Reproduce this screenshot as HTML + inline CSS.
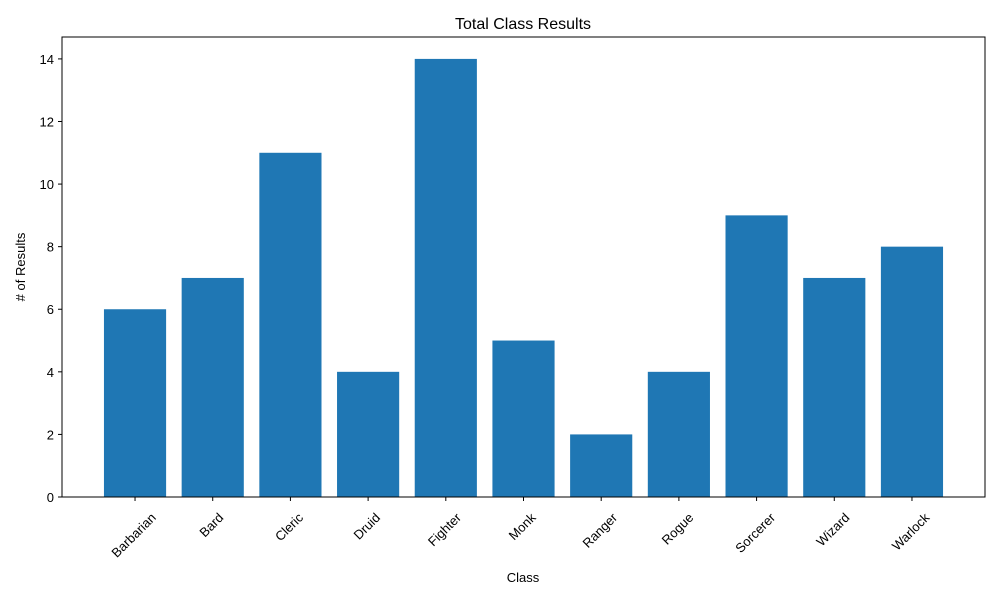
<!DOCTYPE html>
<html><head><meta charset="utf-8"><style>
body{margin:0;background:#fff;font-family:"Liberation Sans","DejaVu Sans",sans-serif;}
</style></head><body>
<svg id="chart" width="1000" height="600" xmlns="http://www.w3.org/2000/svg">
<rect width="1000" height="600" fill="#fff"/>
<text x="523" y="29" font-size="16" text-anchor="middle" fill="#000">Total Class Results</text>
<text x="523" y="582" font-size="13" text-anchor="middle">Class</text>
<text transform="translate(25,267) rotate(-90)" font-size="13" text-anchor="middle"># of Results</text>
<g id="bars"></g><g id="ticks"></g>
<rect x="62" y="37" width="923" height="460" fill="none" stroke="#000" stroke-width="1"/>
</svg>
<script>
const categories=["Barbarian","Bard","Cleric","Druid","Fighter","Monk","Ranger","Rogue","Sorcerer","Wizard","Warlock"];
const values=[6,7,11,4,14,5,2,4,9,7,8];
const yTicks=[0,2,4,6,8,10,12,14];
const L=62,R=985,T=37,B=497;
const xMin=-0.94,xMax=categories.length-1+0.94,yMax=14.7;
const xs=i=>L+(i-xMin)/(xMax-xMin)*(R-L);
const ys=v=>B-v/yMax*(B-T);
const NS="http://www.w3.org/2000/svg";
const bars=document.getElementById('bars'),ticks=document.getElementById('ticks');
const bw=0.8*(R-L)/(xMax-xMin);
values.forEach((v,i)=>{
 const r=document.createElementNS(NS,'rect');
 r.setAttribute('x',xs(i)-bw/2);r.setAttribute('y',ys(v));
 r.setAttribute('width',bw);r.setAttribute('height',ys(0)-ys(v));
 r.setAttribute('fill','#1f77b4');
 
 
 bars.appendChild(r);
 const tk=document.createElementNS(NS,'line');
 tk.setAttribute('x1',xs(i));tk.setAttribute('x2',xs(i));tk.setAttribute('y1',B);tk.setAttribute('y2',B+4);tk.setAttribute('stroke','#000');
 
 
 ticks.appendChild(tk);
 const t=document.createElementNS(NS,'text');
 t.setAttribute('text-anchor','middle');t.setAttribute('font-size','13');t.setAttribute('dy','4');
 t.textContent=categories[i];
 
 
 ticks.appendChild(t);
 const w=t.getComputedTextLength();
 const cx=xs(i)-1,cy=B+14+(w+13)*0.7071/2;
 t.setAttribute('transform',`translate(${cx},${cy}) rotate(-45)`);
});
yTicks.forEach(v=>{
 const tk=document.createElementNS(NS,'line');
 tk.setAttribute('x1',L-4);tk.setAttribute('x2',L);tk.setAttribute('y1',ys(v));tk.setAttribute('y2',ys(v));tk.setAttribute('stroke','#000');
 
 
 ticks.appendChild(tk);
 const t=document.createElementNS(NS,'text');
 t.setAttribute('x',L-8);t.setAttribute('y',ys(v)+5);t.setAttribute('text-anchor','end');t.setAttribute('font-size','13');
 t.textContent=v;
 
 
 ticks.appendChild(t);
});
</script>
</body></html>
